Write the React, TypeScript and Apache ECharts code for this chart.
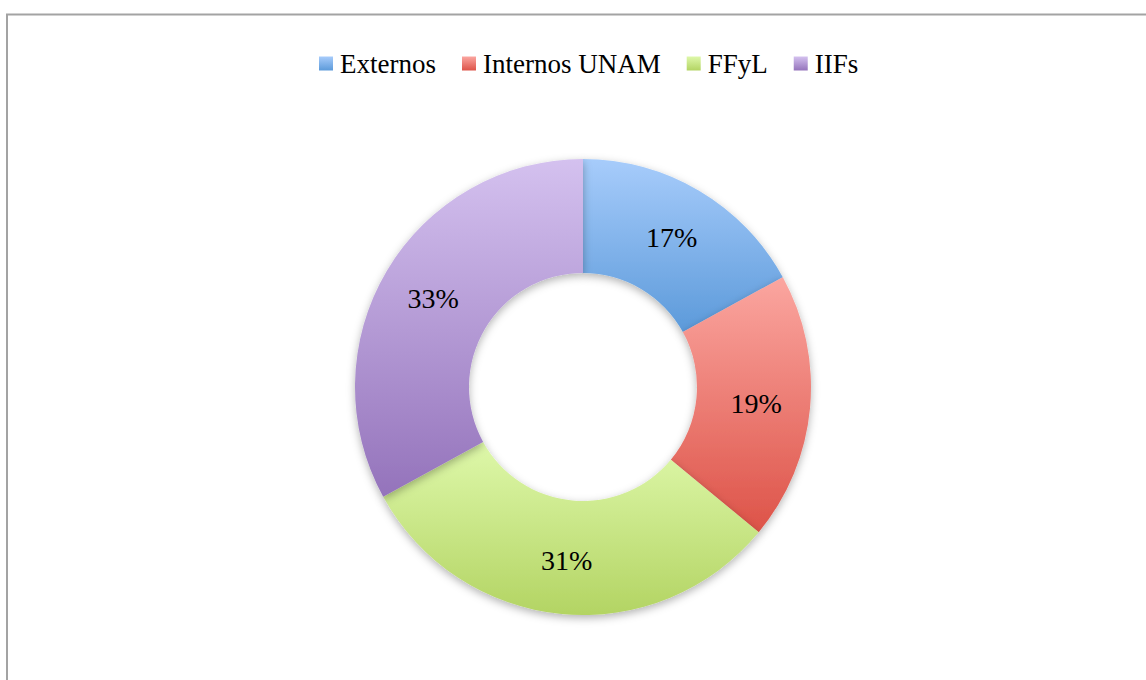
import React, { useEffect, useRef } from "react";
import * as echarts from "echarts";

const categories = ["Externos", "Internos UNAM", "FFyL", "IIFs"];
const values = [17, 19, 31, 33];
const topColors = ["#a7ccfb", "#fba6a0", "#def8aa", "#d4c1ef"];
const bottomColors = ["#5c9ada", "#dd5348", "#b3d463", "#9473bb"];

export default function App() {
  const ref = useRef<HTMLDivElement>(null);
  useEffect(() => {
    if (!ref.current) return;
    const chart = echarts.init(ref.current, undefined, { renderer: "svg" });
    const grad = (i: number) =>
      new echarts.graphic.LinearGradient(0, 0, 0, 1, [
        { offset: 0, color: topColors[i] },
        { offset: 1, color: bottomColors[i] },
      ]);
    chart.setOption({
      animation: false,
      backgroundColor: "#ffffff",
      graphic: [
        {
          type: "rect",
          shape: { x: 7, y: 14.5, width: 1200, height: 700 },
          style: { fill: "none", stroke: "#a3a3a3", lineWidth: 2 },
          silent: true,
        },
      ],
      legend: {
        top: 45,
        left: 314,
        itemWidth: 14,
        itemHeight: 14,
        itemGap: 26,
        icon: "rect",
        textStyle: {
          fontFamily: "Liberation Serif",
          fontSize: 27,
          color: "#000",
          padding: [0, 0, 0, 2],
        },
        data: categories,
      },
      series: [
        {
          type: "pie",
          center: [583, 387],
          radius: [114, 228],
          startAngle: 90,
          clockwise: true,
          avoidLabelOverlap: false,
          label: {
            show: true,
            position: "inside",
            formatter: "{c}%",
            fontFamily: "Liberation Serif",
            fontSize: 28,
            color: "#000",
          },
          labelLine: { show: false },
          emphasis: { disabled: true },
          itemStyle: {
            shadowBlur: 8,
            shadowOffsetY: 3,
            shadowColor: "rgba(0,0,0,0.3)",
          },
          data: categories.map((c, i) => ({
            name: c,
            value: values[i],
            itemStyle: { color: grad(i) },
          })),
        },
      ],
    });
    return () => chart.dispose();
  }, []);
  return (
    <div
      ref={ref}
      style={{ position: "fixed", left: 0, top: 0, width: 1146, height: 680 }}
    />
  );
}
